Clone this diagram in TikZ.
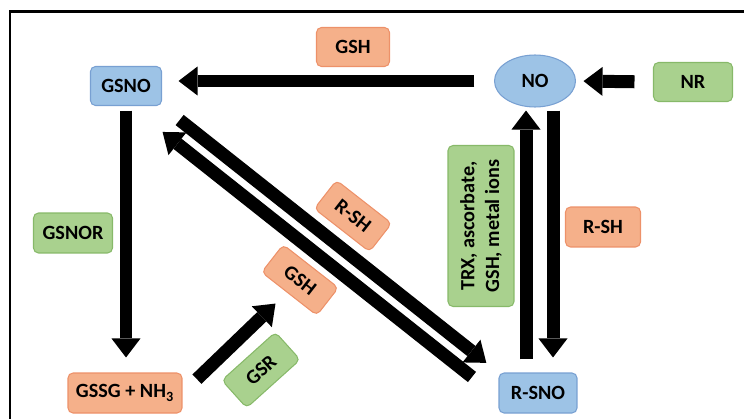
\documentclass[tikz,border=0pt]{standalone}
\usepackage{fontspec}
\setmainfont{Carlito}
\usetikzlibrary{arrows.meta,shapes.geometric}
\definecolor{blfill}{RGB}{157,195,230}
\definecolor{bldraw}{RGB}{120,160,210}
\definecolor{orfill}{RGB}{245,176,138}
\definecolor{ordraw}{RGB}{237,145,105}
\definecolor{grfill}{RGB}{169,209,142}
\definecolor{grdraw}{RGB}{135,185,105}

\begin{document}
\begin{tikzpicture}[x=0.02cm,y=-0.02cm,
    font=\fontsize{11.5}{14}\selectfont\bfseries,
    box/.style={rectangle,rounded corners=0.1cm,line width=0.6pt,minimum height=0.78cm,inner sep=0pt},
    molbox/.style={box,draw=bldraw,fill=blfill},
    thiolbox/.style={box,draw=ordraw,fill=orfill},
    enzbox/.style={box,draw=grdraw,fill=grfill},
    fat/.style={line width=0.26cm,-{Triangle[length=0.38cm,width=0.58cm,line width=0pt]}}]
          \useasboundingbox (0,0) rectangle (744,419);
          \draw[line width=0.06cm] (10,419) -- (10,11.5) -- (744,11.5);

          \node[molbox,minimum width=1.42cm] (GSNO) at (126,86) {GSNO};
          \node[thiolbox,minimum width=1.46cm] (GSHa) at (353,47) {GSH};
          \node[ellipse,draw=bldraw,fill=blfill,line width=0.6pt,minimum width=1.62cm,minimum height=1.04cm,inner sep=0pt] (NO) at (535,81) {NO};
          \node[enzbox,minimum width=1.58cm] (NR) at (693,82) {NR};
          \node[enzbox,minimum width=1.58cm,minimum height=0.8cm] (GSNOR) at (73,233) {GSNOR};
          \node[thiolbox,minimum width=2.28cm,minimum height=0.8cm] (GSSG) at (125,393) {GSSG + NH\textsubscript{3}};
          \node[enzbox,rotate=42,minimum width=1.44cm,minimum height=0.74cm] (GSR) at (261,370) {GSR};
          \node[thiolbox,rotate=-38,minimum width=1.4cm,minimum height=0.7cm] (GSHb) at (300,280) {GSH};
          \node[thiolbox,rotate=-38,minimum width=1.4cm,minimum height=0.72cm] (RSHa) at (353,216) {R-SH};
          \node[enzbox,rotate=90,align=center,minimum width=3.22cm,minimum height=1.32cm] (TRX) at (481,226) {TRX, ascorbate,\\GSH, metal ions};
          \node[thiolbox,minimum width=1.5cm,minimum height=0.8cm] (RSHb) at (603,227) {R-SH};
          \node[molbox,minimum width=1.56cm,minimum height=0.8cm] (RSNO) at (538,393) {R-SNO};

          \draw[fat,shorten <=0.39cm,shorten >=0.33cm] (NO.west) -- (NO.west -| GSNO.east);
          \draw[fat,shorten <=0.37cm,shorten >=0.15cm] (NR.west) -- (NO.east);
          \draw[fat,shorten <=0.09cm,shorten >=0.3cm] (GSNO.south) -- (GSNO.south |- GSSG.north);
          \draw[fat,shorten <=0.4cm,shorten >=0.68cm] (GSSG.east) -- (GSHb.center);
          \draw[fat,shorten <=0.45cm,shorten >=0.31cm] (GSNO.south east) -- (RSNO.north west);
          \draw[fat,shorten <=0.37cm,shorten >=0.32cm] ([shift={(-12,16)}]RSNO.north west) -- ([shift={(-12,16)}]GSNO.south east);
          \draw[fat,shorten <=0.26cm,shorten >=0.06cm] ([xshift=-0.24cm]RSNO.north) -- ([xshift=-0.24cm]RSNO.north |- NO.south);
          \draw[fat,shorten <=0.06cm,shorten >=0.3cm] ([xshift=0.3cm]RSNO.north |- NO.south) -- ([xshift=0.3cm]RSNO.north);
        \end{tikzpicture}
\end{document}
